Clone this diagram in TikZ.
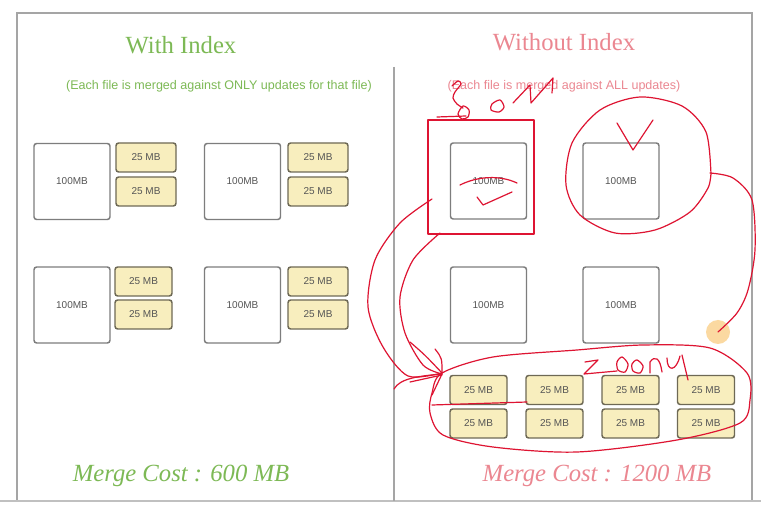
\documentclass[tikz,border=0pt]{standalone}
\usepackage{fontspec}
\setmainfont{Liberation Serif}
\setsansfont{Liberation Sans}
\definecolor{framegray}{RGB}{165,165,165}
\definecolor{boxgray}{RGB}{125,125,125}
\definecolor{txtgray}{RGB}{85,85,85}
\definecolor{yel}{RGB}{248,238,190}
\definecolor{yelborder}{RGB}{110,105,85}
\definecolor{grn}{RGB}{125,185,85}
\definecolor{pnk}{RGB}{235,135,145}
\definecolor{penred}{RGB}{222,20,50}
\definecolor{cursor}{RGB}{250,205,130}
\begin{document}
\begin{tikzpicture}[x=0.75pt,y=-0.75pt,
  bigbox/.style={draw=boxgray,line width=1.1pt,rounded corners=2pt,fill=white,minimum width=57pt,minimum height=57pt,inner sep=0pt,font=\sffamily\fontsize{7.5}{9}\selectfont,text=txtgray},
  smallbox/.style={draw=yelborder,line width=1.1pt,rounded corners=2pt,fill=yel,minimum width=45pt,minimum height=21.75pt,inner sep=0pt,font=\sffamily\fontsize{7.5}{9}\selectfont,text=txtgray},
  smallboxR/.style={smallbox,minimum width=42.75pt},
  ttl/.style={font=\fontsize{18.5}{22}\selectfont},
  subttl/.style={font=\sffamily\fontsize{9.4}{11}\selectfont},
  cost/.style={font=\itshape\fontsize{18.5}{22}\selectfont},
  ink/.style={draw=penred,line width=0.9pt,line cap=round,line join=round}
]
\useasboundingbox (0,0) rectangle (761,509);
\fill[white] (0,0) rectangle (761,509);
% frame
\draw[framegray,line width=1.3pt] (17,501) -- (17,13) -- (752,13) -- (752,501);
\draw[framegray!70,line width=1.3pt] (0,501) -- (761,501);
\draw[framegray,line width=1.3pt] (394,67) -- (394,501);

% titles
\node[ttl,text=grn] (t1) at (181,45) {With Index};
\node[ttl,text=pnk] (t2) at (564,42) {Without Index};
\node[subttl,text=grn] (s1) at (219,86) {(Each file is merged against ONLY updates for that file)};
\node[subttl,text=pnk] (s2) at (564,86) {(Each file is merged against ALL updates)};

% left side
\node[bigbox] (L1) at (72,181.5) {100MB};
\node[bigbox] (L2) at (242.5,181.5) {100MB};
\node[bigbox] (L3) at (72,305) {100MB};
\node[bigbox] (L4) at (242.5,305) {100MB};
\node[smallbox] (a1) at (146,157.5) {25 MB};
\node[smallbox] (a2) at (146,191.5) {25 MB};
\node[smallbox] (b1) at (318,157.5) {25 MB};
\node[smallbox] (b2) at (318,191.5) {25 MB};
\node[smallboxR] (c1) at (143.5,281.5) {25 MB};
\node[smallboxR] (c2) at (143.5,314.5) {25 MB};
\node[smallbox] (d1) at (318,281.5) {25 MB};
\node[smallbox] (d2) at (318,314.5) {25 MB};

% right side
\node[bigbox] (R1) at (488.5,181) {100MB};
\node[bigbox] (R2) at (621,181) {100MB};
\node[bigbox] (R3) at (488.5,305) {100MB};
\node[bigbox] (R4) at (621,305) {100MB};
\foreach \x [count=\i] in {478.5,554.5,630.5,706}{
  \node[smallboxR] (u\i) at (\x,390) {25 MB};
  \node[smallboxR] (v\i) at (\x,423.5) {25 MB};
}

% costs
\node[cost,text=grn] (m1) at (181,476) {Merge Cost : 600 MB};
\node[cost,text=pnk] (m2) at (597,476) {Merge Cost : 1200 MB};

% cursor highlight
\fill[cursor,opacity=0.75] (718,332) circle (12);

% red annotations
\draw[ink] (428,120) rectangle (534,234);
\draw[ink] (437,117) -- (466,116);
\draw[ink] plot[smooth] coordinates {(452,86) (458,81) (461,84) (455,92) (453,98) (457,104) (463,108)};
\draw[ink] plot[smooth cycle] coordinates {(463,106) (469,110) (468,117) (462,119) (458,114)};
\draw[ink] plot[smooth cycle] coordinates {(500,100) (504,107) (499,112) (491,110) (492,104)};
\draw[ink] (513,103) -- (530,85) -- (531,103) -- (553,78) -- (552,93);
% strike and tick on R1
\draw[ink] (460,185) .. controls (478,176) and (500,175) .. (517,183);
\draw[ink] (477,197) -- (483,205) -- (512,192);
% circle round R2
\draw[ink] plot[smooth] coordinates {(711,175) (706,132) (682,106) (640,97) (600,110) (572,143) (566,185) (580,215) (615,233) (655,230) (690,212) (708,188) (711,172)};
\draw[ink] (617,123) -- (633,150) -- (653,120);
\draw[ink] plot[smooth] coordinates {(710,173) (733,178) (752,200) (755,250) (748,290) (737,313) (718,332)};
% curves to bottom
\draw[ink] plot[smooth] coordinates {(432,199) (400,223) (375,260) (368,307) (383,347) (408,376) (442,373)};
\draw[ink] plot[smooth] coordinates {(440,233) (413,260) (400,297) (405,333) (423,365) (442,374)};
\draw[ink] (410,342) .. controls (425,355) .. (442,373);
\draw[ink] (435,349) .. controls (442,358) .. (442,373);
\draw[ink] (394,389) .. controls (400,378) and (420,376) .. (442,374);
\draw[ink] (410,382) -- (442,375);
\draw[ink] (442,374) -- (432,395);
% ellipse round bottom boxes
\draw[ink] plot[smooth cycle] coordinates {(442,373) (493,357) (577,350) (643,345) (710,348) (747,373) (750,400) (740,423) (677,440) (577,452) (493,447) (443,435) (430,413) (432,393)};
\draw[ink] (432,405) -- (527,402);
% bottom "zoom"
\draw[ink] (585,362) -- (598,360) -- (584,374) -- (617,371);
\draw[ink] plot[smooth cycle] coordinates {(622,357) (628,364) (625,372) (618,370) (617,362)};
\draw[ink] plot[smooth cycle] coordinates {(637,360) (643,366) (640,373) (633,371) (632,364)};
\draw[ink] (650,373) -- (650,362) .. controls (655,355) and (660,358) .. (662,372);
\draw[ink] (667,358) .. controls (667,372) and (676,372) .. (680,356);
\draw[ink] (682,355) -- (688,380);
\end{tikzpicture}
\end{document}
